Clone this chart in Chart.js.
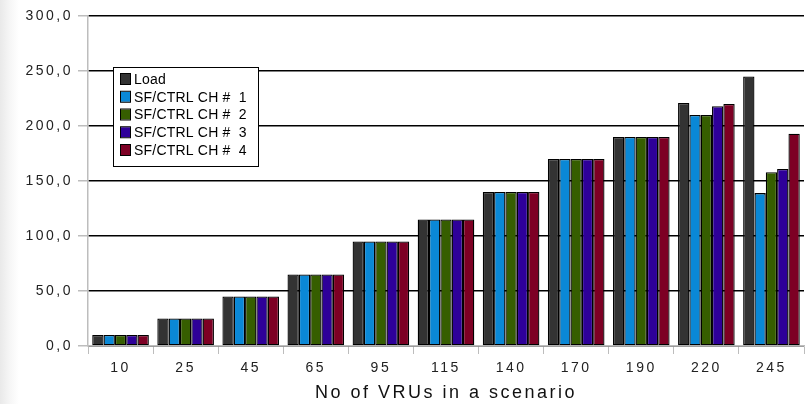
<!DOCTYPE html>
<html>
<head>
<meta charset="utf-8">
<script src="https://cdn.jsdelivr.net/npm/chart.js@4"></script>
<style>
  html, body { margin: 0; padding: 0; background: #fff; }
  #wrap {
    width: 808px; height: 404px; position: relative;
    background: linear-gradient(to right, #e9e9e9 0px, #f6f6f6 10px, #ffffff 19px);
  }
  #chart { position: absolute; left: 0; top: 0; }
</style>
</head>
<body>
<div id="wrap"><canvas id="chart" width="808" height="404"></canvas></div>
<script>
// categories & series
const vrus = ["10", "25", "45", "65", "95", "115", "140", "170", "190", "220", "245"];
const load = [10, 25, 45, 65, 95, 115, 140, 170, 190, 221, 245];
const ch1  = [10, 25, 45, 65, 95, 115, 140, 170, 190, 210, 139];
const ch2  = [10, 25, 45, 65, 95, 115, 140, 170, 190, 210, 158];
const ch3  = [10, 25, 45, 65, 95, 115, 140, 170, 190, 218, 161];
const ch4  = [10, 25, 45, 65, 95, 115, 140, 170, 190, 220, 193];
const seriesNames = ["Load", "SF/CTRL CH #  1", "SF/CTRL CH #  2", "SF/CTRL CH #  3", "SF/CTRL CH #  4"];
const seriesColors = ["#333333", "#0a88d6", "#365e00", "#2e0099", "#7d0024"];
const yTicks = [0, 50, 100, 150, 200, 250, 300];

const FONT = "Arial, 'Liberation Sans', sans-serif";

// the original's axis text is widely spaced
const spacing = {
  id: "spacing",
  beforeDraw(chart) { chart.ctx.letterSpacing = "2.5px"; },
  afterDraw(chart) { chart.ctx.letterSpacing = "0px"; }
};

// legend box drawn on canvas (framed like the original)
const boxLegend = {
  id: "boxLegend",
  afterDraw(chart) {
    const ctx = chart.ctx;
    const x = 113, y = 67, w = 145, h = 99;
    ctx.save();
    ctx.letterSpacing = "0.2px";
    ctx.fillStyle = "#fff";
    ctx.fillRect(x, y, w, h);
    ctx.strokeStyle = "#000";
    ctx.lineWidth = 1;
    ctx.strokeRect(x + 0.5, y + 0.5, w, h);
    ctx.font = "14px " + FONT;
    ctx.textBaseline = "middle";
    chart.data.datasets.forEach((ds, i) => {
      const cy = 79 + i * 17.75;
      ctx.fillStyle = ds.backgroundColor;
      ctx.fillRect(121, cy - 5, 9, 10);
      ctx.strokeStyle = "#000";
      ctx.strokeRect(120.5, cy - 5.5, 10, 11);
      ctx.fillStyle = "#000";
      ctx.fillText(ds.label, 134, cy + 1);
    });
    ctx.restore();
  }
};

const datasets = [load, ch1, ch2, ch3, ch4].map((d, i) => ({
  label: seriesNames[i],
  data: d,
  backgroundColor: seriesColors[i],
  borderColor: "#000",
  borderWidth: 1.3,
  borderSkipped: false,
  categoryPercentage: 0.87,
  barPercentage: 1.0
}));

new Chart(document.getElementById("chart"), {
  type: "bar",
  data: { labels: vrus, datasets },
  plugins: [spacing, boxLegend],
  options: {
    responsive: false,
    animation: false,
    layout: { padding: { top: 16, right: 4, left: 0, bottom: 0 } },
    plugins: { legend: { display: false }, tooltip: { enabled: false } },
    scales: {
      x: {
        afterFit: s => { s.height = 58; },
        grid: { drawOnChartArea: false, drawTicks: true, tickLength: 8, tickColor: "#bdbdbd", offset: true },
        border: { color: "#bdbdbd", width: 1.5 },
        ticks: { color: "#222", font: { family: FONT, size: 14 }, padding: 6, maxRotation: 0, autoSkip: false },
        title: {
          display: true, text: "No of VRUs in a scenario",
          color: "#111", font: { family: FONT, size: 18 }, padding: { top: 0, bottom: 0 }
        }
      },
      y: {
        min: 0, max: 300,
        afterBuildTicks: s => { s.ticks = yTicks.map(v => ({ value: v })); },
        afterFit: s => { s.width = 88; },
        grid: { color: "#000", lineWidth: 1.5, tickColor: "#bdbdbd", tickLength: 10 },
        border: { color: "#bdbdbd", width: 1.5 },
        ticks: {
          color: "#222", font: { family: FONT, size: 14 }, padding: 5,
          callback: v => v.toFixed(1).replace(".", ",")
        }
      }
    }
  }
});
</script>
</body>
</html>
